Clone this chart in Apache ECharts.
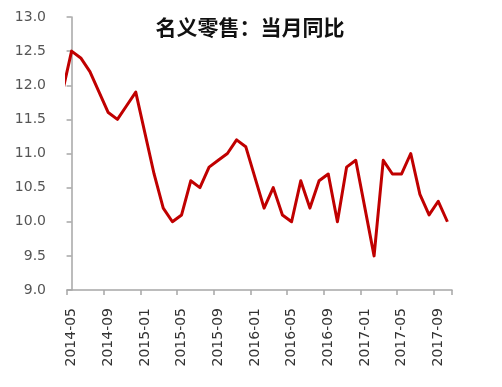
<!DOCTYPE html>
<html>
<head>
<meta charset="utf-8">
<script src="https://cdn.jsdelivr.net/npm/echarts@6/dist/echarts.min.js"></script>
<style>
html,body{margin:0;padding:0;background:#fff;}
#c{width:502px;height:387px;}
</style>
</head>
<body>
<div id="c"></div>
<script>
// Category labels shown on the x axis (monthly)
const months = [
  '2014-05','2014-06','2014-07','2014-08','2014-09','2014-10','2014-11','2014-12',
  '2015-01','2015-02','2015-03','2015-04','2015-05','2015-06','2015-07','2015-08','2015-09','2015-10','2015-11','2015-12',
  '2016-01','2016-02','2016-03','2016-04','2016-05','2016-06','2016-07','2016-08','2016-09','2016-10','2016-11','2016-12',
  '2017-01','2017-02','2017-03','2017-04','2017-05','2017-06','2017-07','2017-08','2017-09','2017-10'
];
// Nominal retail sales, YoY (%) — January values not published (combined Jan-Feb)
const values = [
  12.5, 12.4, 12.2, 11.9, 11.6, 11.5, 11.7, 11.9,
  null, 10.7, 10.2, 10.0, 10.1, 10.6, 10.5, 10.8, 10.9, 11.0, 11.2, 11.1,
  null, 10.2, 10.5, 10.1, 10.0, 10.6, 10.2, 10.6, 10.7, 10.0, 10.8, 10.9,
  null, 9.5, 10.9, 10.7, 10.7, 11.0, 10.4, 10.1, 10.3, 10.0
];
// Preceding month (partly visible, clipped at the axis edge)
const leadMonth = '2014-04';
const leadValue = 11.9;

const yTicks = [9.0, 9.5, 10.0, 10.5, 11.0, 11.5, 12.0, 12.5, 13.0];
const titleText = '名义零售：当月同比';

const seriesData = [[-1, leadValue]];
values.forEach((v, i) => { if (v !== null) seriesData.push([i, v]); });

const chart = echarts.init(document.getElementById('c'), null, {renderer: 'canvas'});
const axisGrey = '#A6A6A6';
chart.setOption({
  backgroundColor: '#fff',
  animation: false,
  title: {
    text: titleText,
    left: 245, top: 12,
    textAlign: 'center',
    textStyle: {fontFamily: 'Noto Sans CJK SC', fontSize: 21, fontWeight: 'bold', color: '#111'}
  },
  grid: {left: 67, right: 50, top: 17, bottom: 97, containLabel: false},
  xAxis: [{
    type: 'category',
    data: months,
    boundaryGap: true,
    axisLine: {lineStyle: {color: axisGrey, width: 1.5}},
    axisTick: {show: true, interval: 3, length: 5, lineStyle: {color: axisGrey, width: 1.5}},
    axisLabel: {interval: 3, rotate: 90, margin: 18, color: '#333', fontFamily: 'DejaVu Sans', fontSize: 14},
    splitLine: {show: false}
  }, {
    type: 'value',
    show: false,
    min: -0.5,
    max: months.length - 0.5
  }],
  yAxis: {
    type: 'value',
    min: yTicks[0],
    max: yTicks[yTicks.length - 1],
    interval: 0.5,
    axisLine: {show: true, lineStyle: {color: axisGrey, width: 1.5}},
    axisTick: {show: true, length: 5, lineStyle: {color: axisGrey, width: 1.5}},
    axisLabel: {margin: 21, color: '#555', fontFamily: 'DejaVu Sans', fontSize: 14,
      formatter: v => v.toFixed(1)},
    splitLine: {show: false}
  },
  series: [{
    type: 'line',
    xAxisIndex: 1,
    data: seriesData,
    showSymbol: false,
    symbol: 'none',
    clip: true,
    lineStyle: {color: '#C00000', width: 3, join: 'round'},
    itemStyle: {color: '#C00000'}
  }]
});
</script>
</body>
</html>
